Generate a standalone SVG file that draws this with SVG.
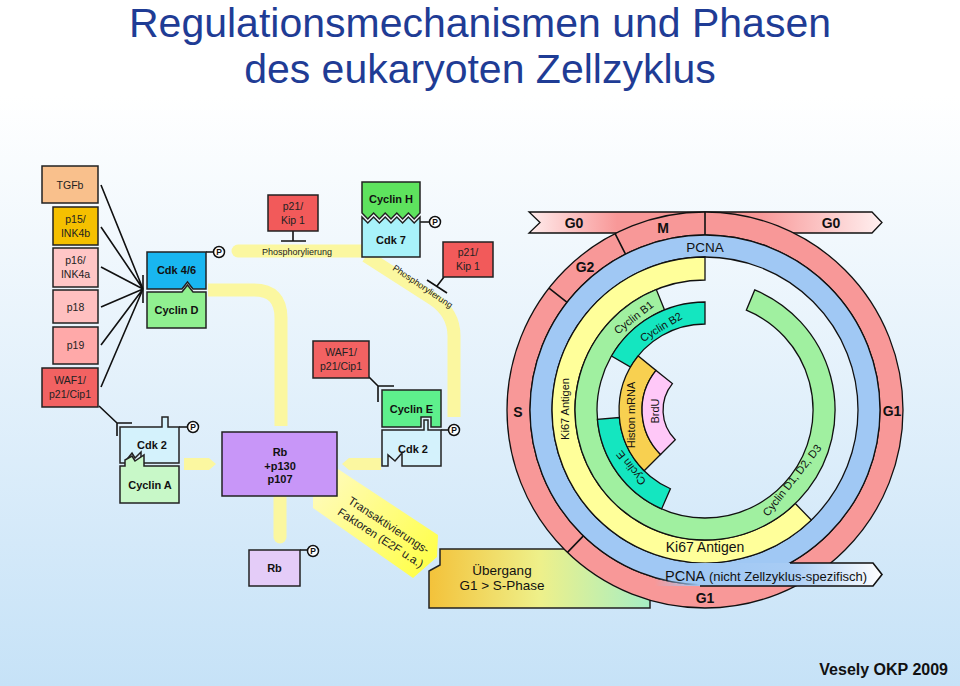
<svg xmlns="http://www.w3.org/2000/svg" width="960" height="686" viewBox="0 0 960 686">
<defs>
<linearGradient id="bg" x1="0" y1="0" x2="0" y2="686" gradientUnits="userSpaceOnUse">
<stop offset="0.14" stop-color="#ffffff"/><stop offset="1" stop-color="#c6e2f7"/>
</linearGradient>
<linearGradient id="g0" x1="529" y1="0" x2="882" y2="0" gradientUnits="userSpaceOnUse">
<stop offset="0" stop-color="#ffecec"/><stop offset="0.25" stop-color="#f89898"/><stop offset="0.65" stop-color="#f89898"/><stop offset="1" stop-color="#fff0f0"/>
</linearGradient>
<linearGradient id="pcna" x1="655" y1="0" x2="882" y2="0" gradientUnits="userSpaceOnUse">
<stop offset="0" stop-color="#a0c8f4" stop-opacity="0"/><stop offset="0.2" stop-color="#a0c8f4"/><stop offset="0.6" stop-color="#a8ccf4"/><stop offset="1" stop-color="#ffffff"/>
</linearGradient>
<linearGradient id="trans" x1="325" y1="480" x2="430" y2="570" gradientUnits="userSpaceOnUse">
<stop offset="0" stop-color="#fffbb8"/><stop offset="1" stop-color="#ffff48"/>
</linearGradient>
<linearGradient id="ueb" x1="429" y1="0" x2="650" y2="0" gradientUnits="userSpaceOnUse">
<stop offset="0" stop-color="#f3c23a"/><stop offset="0.5" stop-color="#eef08a"/><stop offset="1" stop-color="#a6eec4"/>
</linearGradient>
<g id="P"><circle r="5.5" fill="#fff" stroke="#111" stroke-width="1.5"/><text y="3" font-size="8.5" font-weight="bold" text-anchor="middle" fill="#111">P</text></g>
</defs>
<style>
text{font-family:"Liberation Sans",Arial,sans-serif}
.box{stroke:#222;stroke-width:1.5}
.t{font-size:10.5px;fill:#222;text-anchor:middle}
.b{font-size:11px;font-weight:bold;fill:#111;text-anchor:middle}
.ln{stroke:#111;stroke-width:1.6;fill:none}
.band{stroke:#fbf7a0;stroke-width:13;fill:none}
.bandf{fill:#fbf7a0}
.ring{stroke:#111;stroke-width:1.3}
.rl{font-size:14px;font-weight:bold;text-anchor:middle;fill:#111}
.cl{font-size:11px;text-anchor:middle;fill:#111}
</style>
<rect x="0" y="0" width="960" height="686" fill="url(#bg)"/>
<g id="title" fill="#1f3c95" font-size="41" text-anchor="middle">
<text x="480" y="37">Regulationsmechanismen und Phasen</text>
<text x="480" y="83">des eukaryoten Zellzyklus</text>
</g>

<g id="connectors">
<path class="band" d="M208,290 H254 Q281,290 281,318 V426"/>
<path class="band" d="M362,251 H238" stroke-linecap="round"/>
<path class="band" d="M366,256 L433,299 Q454,313 454,336 V417"/>
<polygon class="bandf" points="184,458 209,458 216,464 209,470 184,470"/>
<polygon class="bandf" points="381,458 349,458 342,464 349,470 381,470"/>
<path class="band" d="M280,497 V537" stroke-linecap="round"/>
<polygon fill="url(#trans)" points="313,490 338,469 438,535 437,557 413,578 313,508"/>
<text x="297" y="255" font-size="9" text-anchor="middle" fill="#222">Phosphorylierung</text>
<text transform="translate(421,289) rotate(34)" font-size="9" text-anchor="middle" fill="#222">Phosphorylierung</text>
<g transform="translate(385,531) rotate(33)" font-size="11.5" text-anchor="middle" fill="#222">
<text x="0" y="-3">Transaktivierungs-</text>
<text x="0" y="12">Faktoren (E2F u.a.)</text>
</g>
<path class="ln" d="M101,185 L143,289 M101,227 L143,289 M101,267 L143,289 M101,307 L143,289 M101,345 L143,289 M101,387 L143,289"/>
<path class="ln" d="M143,275 V303"/>
<path class="ln" d="M99,406 L117,423 M132,423 H117 V436"/>
<path class="ln" d="M369,377 L378,386 M394,386 H378 V402"/>
<path class="ln" d="M293,231 V241 M281,241 H306"/>
<path class="ln" d="M444,277 L437,286 M427,280 L447,293"/>
<path class="ln" d="M206,252 H214 M420,222 H430 M179,427 H188 M441,430 H449 M300,550 H308"/>
</g>

<g id="tgfb"><rect class="box" x="42" y="166" width="56" height="37" fill="#f9c08c"/><text class="t" x="70" y="189">TGFb</text></g>
<g id="p15"><rect class="box" x="53" y="207" width="45" height="38" fill="#f5c000"/><text class="t" x="75.5" y="223">p15/</text><text class="t" x="75.5" y="237">INK4b</text></g>
<g id="p16"><rect class="box" x="53" y="248" width="45" height="39" fill="#ffc6c6"/><text class="t" x="75.5" y="264">p16/</text><text class="t" x="75.5" y="278">INK4a</text></g>
<g id="p18"><rect class="box" x="53" y="290" width="45" height="33" fill="#ffc0c0"/><text class="t" x="75.5" y="310.5">p18</text></g>
<g id="p19"><rect class="box" x="53" y="327" width="45" height="37" fill="#ffa9a9"/><text class="t" x="75.5" y="349">p19</text></g>
<g id="waf1-left"><rect class="box" x="42" y="368" width="56" height="39" fill="#f26262"/><text class="t" x="70" y="384">WAF1/</text><text class="t" x="70" y="398">p21/Cip1</text></g>

<g id="cdk46"><path class="box" fill="#19b6f0" d="M147,252 H206 V289 H193 L187.5,282 L182,289 H147 Z"/><text class="b" x="176.5" y="274">Cdk 4/6</text><use href="#P" x="219" y="252"/></g>
<g id="cyclinD"><path class="box" fill="#90f090" d="M147,292 H182 L187.5,285 L193,292 H206 V328 H147 Z"/><text class="b" x="176.5" y="314">Cyclin D</text></g>

<g id="p21-left"><rect class="box" x="268" y="195" width="50" height="36" fill="#f25a5a"/><text class="t" x="293" y="210">p21/</text><text class="t" x="293" y="224">Kip 1</text></g>
<g id="cyclinH"><path class="box" fill="#5ee35e" d="M362,182 H420 V213 L414.2,219 L408.4,213 L402.6,219 L396.8,213 L391,219 L385.2,213 L379.4,219 L373.6,213 L367.8,219 L362,213 Z"/><text class="b" x="391" y="203">Cyclin H</text></g>
<g id="cdk7"><path class="box" fill="#a8f2fa" d="M362,217 L367.8,223 L373.6,217 L379.4,223 L385.2,217 L391,223 L396.8,217 L402.6,223 L408.4,217 L414.2,223 L420,217 V257 H362 Z"/><text class="b" x="391" y="244">Cdk 7</text><use href="#P" x="435" y="222"/></g>
<g id="p21-right"><rect class="box" x="443" y="242" width="50" height="35" fill="#f25a5a"/><text class="t" x="468" y="256">p21/</text><text class="t" x="468" y="270">Kip 1</text></g>

<g id="waf1-mid"><rect class="box" x="313" y="341" width="56" height="37" fill="#f26262"/><text class="t" x="341" y="356">WAF1/</text><text class="t" x="341" y="370">p21/Cip1</text></g>
<g id="cyclinE"><path class="box" fill="#5ef08c" d="M382,390 H441 V427 H431 V417 H421 V427 H382 Z"/><text class="b" x="411.5" y="413">Cyclin E</text></g>
<g id="cdk2-right"><path class="box" fill="#d4f2fc" d="M382,430 H424 V420 H428 V430 H441 V466 H402 V453 L395,461 L388,455 V466 H382 Z"/><text class="b" x="413" y="453">Cdk 2</text><use href="#P" x="454" y="430"/></g>

<g id="cdk2-left"><path class="box" fill="#d4f2fc" d="M120,427 H162 V417 H168 V427 H179 V463 H141 V452 L135,458 L132,453 L128,458 V463 H120 Z"/><text class="b" x="152" y="449">Cdk 2</text><use href="#P" x="193" y="427"/></g>
<g id="cyclinA"><path class="box" fill="#c8f8c8" d="M120,466 H125 V460 L132,456 L135,461 L144,455 V466 H179 V503 H120 Z"/><text class="b" x="150" y="489">Cyclin A</text></g>

<g id="rb"><rect class="box" x="222" y="432" width="115" height="64" fill="#c896f8"/><text class="b" x="280" y="456">Rb</text><text class="b" x="280" y="469.5">+p130</text><text class="b" x="280" y="483">p107</text></g>
<g id="rb-small"><rect class="box" x="249" y="550" width="51" height="36" fill="#e4ccf8"/><text class="b" x="274.5" y="572">Rb</text><use href="#P" x="313" y="551"/></g>

<g id="uebergang"><path class="box" fill="url(#ueb)" d="M440,549 H650 V608 H429 V571 L440,565 Z"/><text x="502" y="575" font-size="13.5" text-anchor="middle" fill="#111">Übergang</text><text x="502" y="590" font-size="13.5" text-anchor="middle" fill="#111">G1 &gt; S-Phase</text></g>

<g id="cycle">
<path class="ring" fill="url(#g0)" d="M529,212 H872 L882,222.5 L872,233 H529 L540,222.5 Z"/>
<path class="ring" fill="#f89898" fill-rule="evenodd" d="M903,410 A198,198 0 1 0 507,410 A198,198 0 1 0 903,410 Z M880,410 A175,175 0 1 1 530,410 A175,175 0 1 1 880,410 Z"/>
<path class="ring" fill="#a0c8f4" fill-rule="evenodd" d="M880,410 A175,175 0 1 0 530,410 A175,175 0 1 0 880,410 Z M858,410 A153,153 0 1 1 552,410 A153,153 0 1 1 858,410 Z"/>
<path class="ln" stroke-width="1.3" d="M705,235 V212 M625.5,254.1 L615.1,233.6 M567.1,302.3 L549,288.1 M583.4,535.9 L567.5,552.4"/>
<path class="ring" fill="#ffff9a" d="M811.3,520.1 A153,153 0 1 1 705,257 L705,280 A130,130 0 1 0 795.3,503.5 Z"/>
<path class="ring" fill="#a0f0a0" d="M754.75,289.9 A130,130 0 1 1 656.3,289.5 L664.54,309.9 A108,108 0 1 0 746.33,310.22 Z"/>
<path class="ring" fill="#14e6c0" d="M611.5,356 A108,108 0 0 1 705,302 L705,324 A86,86 0 0 0 630.5,367 Z"/>
<path class="ring" fill="#14e6c0" d="M661.6,508.9 A108,108 0 0 1 597.4,419.4 L619.3,417.5 A86,86 0 0 0 670.4,488.75 Z"/>
<path class="ring" fill="#f8d050" d="M644.2,470.8 A86,86 0 0 1 638.2,355.9 L656,370.4 A63,63 0 0 0 660.5,454.5 Z"/>
<path class="ring" fill="#ffc8f8" d="M660.5,454.5 A63,63 0 0 1 656,370.4 L672.4,383.6 A42,42 0 0 0 675.3,439.7 Z"/>
<path fill="url(#pcna)" d="M655,563 H873 L882,574.5 L873,586 H655 Z"/>
<path class="ln" stroke-width="1.3" d="M790,563 H873 L882,574.5 L873,586 H700"/>
<text class="rl" x="574" y="228" font-size="13">G0</text>
<text class="rl" x="663" y="233" font-size="13">M</text>
<text class="rl" x="831" y="228" font-size="13">G0</text>
<text class="rl" x="585" y="272" font-size="13">G2</text>
<text class="rl" x="518" y="417" font-size="16">S</text>
<text class="rl" x="892" y="416">G1</text>
<text class="rl" x="705" y="603">G1</text>
<text x="705" y="252" font-size="13.5" text-anchor="middle" fill="#111">PCNA</text>
<text x="705" y="552" font-size="14" text-anchor="middle" fill="#111">Ki67 Antigen</text>
<text x="665" y="581" fill="#111"><tspan font-size="14.5">PCNA</tspan><tspan font-size="13"> (nicht Zellzyklus-spezifisch)</tspan></text>
<text class="cl" transform="translate(569,409) rotate(-90)">Ki67 Antigen</text>
<text class="cl" font-size="10" transform="translate(635,415) rotate(-90)">Histon mRNA</text>
<text class="cl" transform="translate(659,411) rotate(-90)">BrdU</text>
<text class="cl" font-size="12" transform="translate(634,465.5) rotate(-128)">Cyclin E</text>
<text class="cl" transform="translate(636,320.5) rotate(-38)">Cyclin B1</text>
<text class="cl" font-size="10.5" transform="translate(663,330.4) rotate(-31)">Cyclin B2</text>
<text class="cl" transform="translate(795,482.6) rotate(-52)">Cyclin D1, D2, D3</text>
</g>

<text x="948" y="675" font-size="16" font-weight="bold" text-anchor="end" fill="#111">Vesely OKP 2009</text>
</svg>
